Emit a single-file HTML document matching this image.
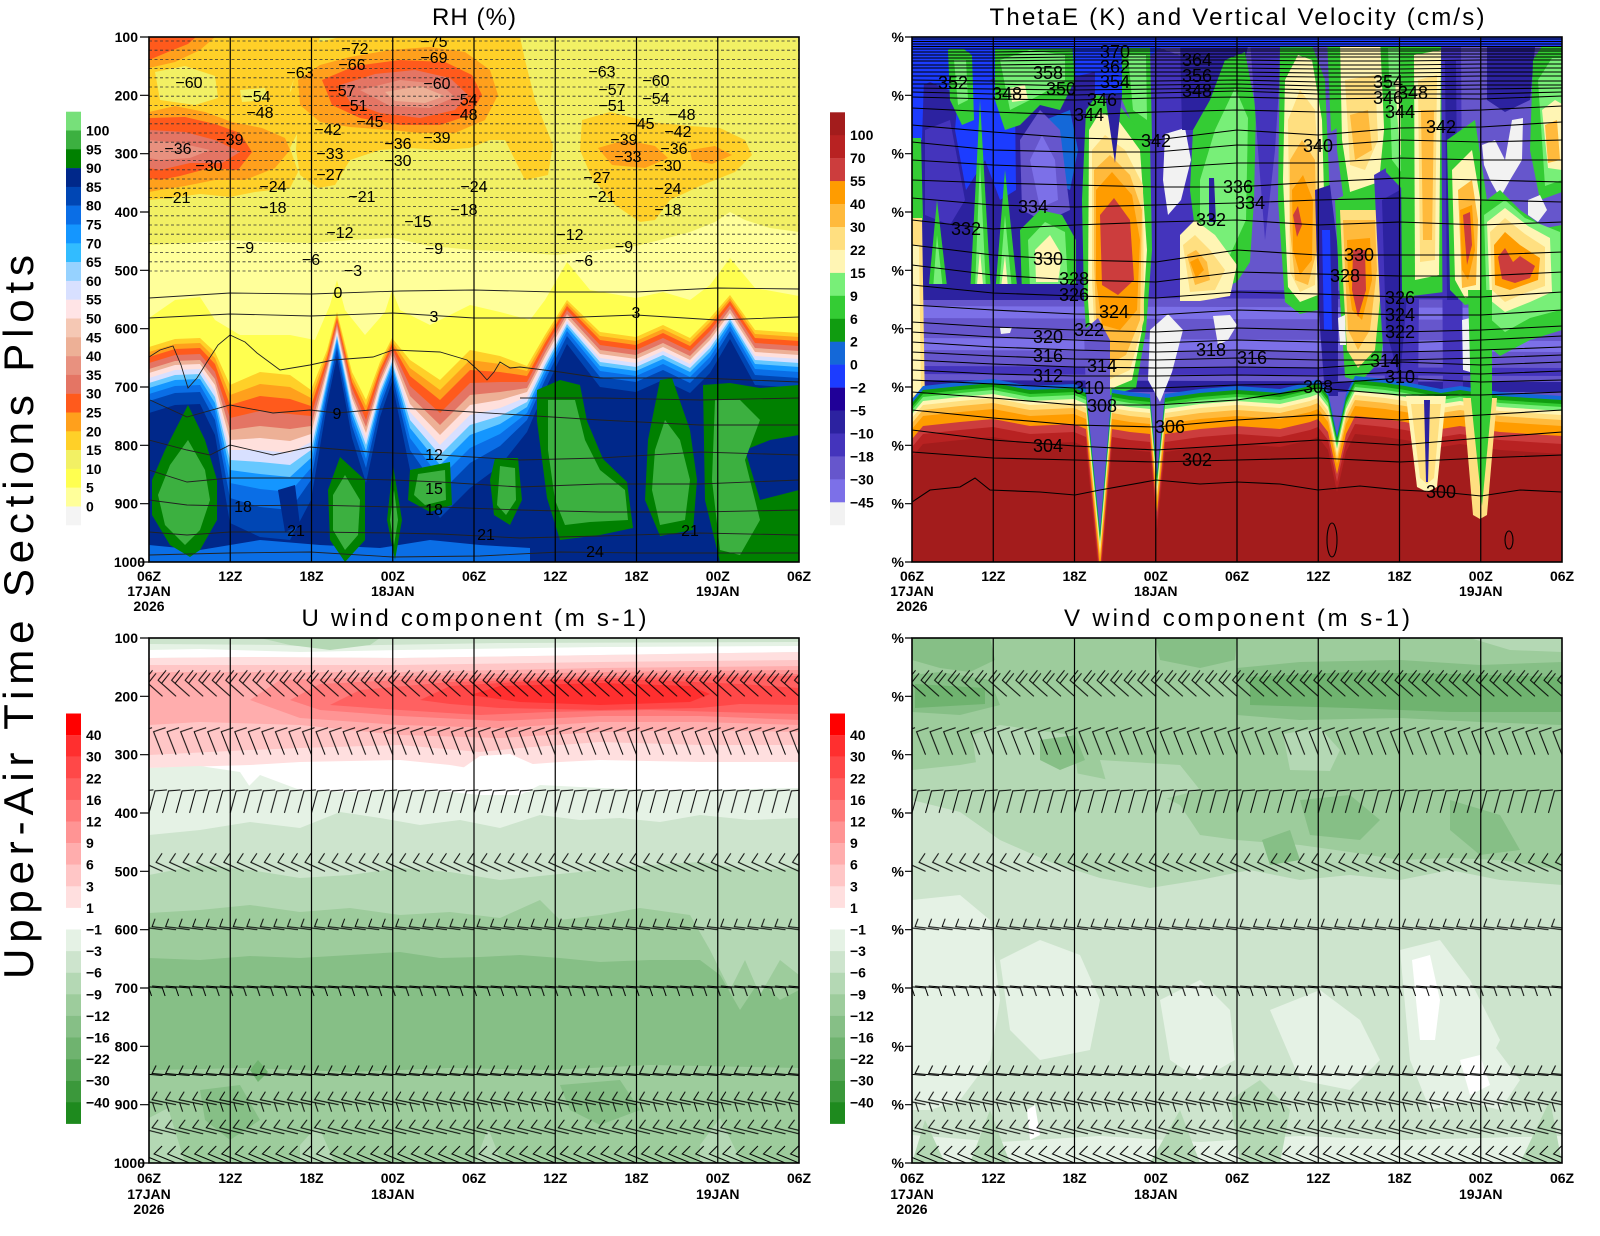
<!DOCTYPE html>
<html><head><meta charset="utf-8"><style>
html,body{margin:0;padding:0;background:#fff;}
svg{display:block}
text{font-family:"Liberation Sans",sans-serif;fill:#000}
.ax{font-weight:bold;font-size:14px}
.cl{font-size:16px}
.tl{font-size:18px}
.ti{font-size:24px}
</style></head><body>
<svg width="1600" height="1236" viewBox="0 0 1600 1236" xmlns="http://www.w3.org/2000/svg" xmlns:xlink="http://www.w3.org/1999/xlink">
<defs>
<clipPath id="c1"><rect x="149" y="37" width="650" height="525"/></clipPath>
<clipPath id="c2"><rect x="912" y="37" width="650" height="525"/></clipPath>
<clipPath id="c3"><rect x="149" y="638" width="650" height="525"/></clipPath>
<clipPath id="c4"><rect x="912" y="638" width="650" height="525"/></clipPath>
<path id="b0" d="M0 0L-18-16L-10-26M-14.5-13L-6.5-23"/>
<path id="b1" d="M0 0L-9-23L3-27"/>
<path id="b2" d="M0 0L6-22L18-23"/>
<path id="b3" d="M0 0L-20-9L-14-18"/>
<path id="b4" d="M0 0L-24-3L-21-11"/>
<path id="b5" d="M0 0L-24-2M-14-1L-11 8"/>
<path id="b6" d="M0 0L-24-2L-20-10"/>
<path id="b7" d="M0 0L-24-5L-19-13M-10-2L-7 7"/>
<path id="b8" d="M0 0L-24-6L-18-14"/>
<path id="b9" d="M0 0L-22-9L-14-17"/>
<pattern id="p0" patternUnits="userSpaceOnUse" x="149" y="664.3" width="13.5417" height="44"><g fill="none" stroke="#000" stroke-width="1"><use href="#b0" x="-27.083" y="32"/><use href="#b0" x="-13.542" y="32"/><use href="#b0" y="32"/><use href="#b0" x="13.542" y="32"/><use href="#b0" x="27.083" y="32"/></g></pattern>
<pattern id="p1" patternUnits="userSpaceOnUse" x="149" y="722.7" width="13.5417" height="44"><g fill="none" stroke="#000" stroke-width="1"><use href="#b1" x="-27.083" y="32"/><use href="#b1" x="-13.542" y="32"/><use href="#b1" y="32"/><use href="#b1" x="13.542" y="32"/><use href="#b1" x="27.083" y="32"/></g></pattern>
<pattern id="p2" patternUnits="userSpaceOnUse" x="149" y="780.9" width="13.5417" height="44"><g fill="none" stroke="#000" stroke-width="1"><use href="#b2" x="-27.083" y="32"/><use href="#b2" x="-13.542" y="32"/><use href="#b2" y="32"/><use href="#b2" x="13.542" y="32"/><use href="#b2" x="27.083" y="32"/></g></pattern>
<pattern id="p3" patternUnits="userSpaceOnUse" x="149" y="839.3" width="13.5417" height="44"><g fill="none" stroke="#000" stroke-width="1"><use href="#b3" x="-27.083" y="32"/><use href="#b3" x="-13.542" y="32"/><use href="#b3" y="32"/><use href="#b3" x="13.542" y="32"/><use href="#b3" x="27.083" y="32"/></g></pattern>
<pattern id="p4" patternUnits="userSpaceOnUse" x="149" y="897.7" width="13.5417" height="44"><g fill="none" stroke="#000" stroke-width="1"><use href="#b4" x="-27.083" y="32"/><use href="#b4" x="-13.542" y="32"/><use href="#b4" y="32"/><use href="#b4" x="13.542" y="32"/><use href="#b4" x="27.083" y="32"/></g></pattern>
<pattern id="p5" patternUnits="userSpaceOnUse" x="149" y="956" width="13.5417" height="44"><g fill="none" stroke="#000" stroke-width="1"><use href="#b5" x="-27.083" y="32"/><use href="#b5" x="-13.542" y="32"/><use href="#b5" y="32"/><use href="#b5" x="13.542" y="32"/><use href="#b5" x="27.083" y="32"/></g></pattern>
<pattern id="p6" patternUnits="userSpaceOnUse" x="149" y="1043.5" width="13.5417" height="44"><g fill="none" stroke="#000" stroke-width="1"><use href="#b6" x="-27.083" y="32"/><use href="#b6" x="-13.542" y="32"/><use href="#b6" y="32"/><use href="#b6" x="13.542" y="32"/><use href="#b6" x="27.083" y="32"/></g></pattern>
<pattern id="p7" patternUnits="userSpaceOnUse" x="149" y="1072.7" width="13.5417" height="44"><g fill="none" stroke="#000" stroke-width="1"><use href="#b7" x="-27.083" y="32"/><use href="#b7" x="-13.542" y="32"/><use href="#b7" y="32"/><use href="#b7" x="13.542" y="32"/><use href="#b7" x="27.083" y="32"/></g></pattern>
<pattern id="p8" patternUnits="userSpaceOnUse" x="149" y="1101.8" width="13.5417" height="44"><g fill="none" stroke="#000" stroke-width="1"><use href="#b8" x="-27.083" y="32"/><use href="#b8" x="-13.542" y="32"/><use href="#b8" y="32"/><use href="#b8" x="13.542" y="32"/><use href="#b8" x="27.083" y="32"/></g></pattern>
<pattern id="p9" patternUnits="userSpaceOnUse" x="149" y="1131" width="13.5417" height="44"><g fill="none" stroke="#000" stroke-width="1"><use href="#b9" x="-27.083" y="32"/><use href="#b9" x="-13.542" y="32"/><use href="#b9" y="32"/><use href="#b9" x="13.542" y="32"/><use href="#b9" x="27.083" y="32"/></g></pattern>
</defs>
<rect width="1600" height="1236" fill="#fff"/>

<!-- Sidebar -->
<text transform="translate(33,617) rotate(-90)" text-anchor="middle" font-size="42" fill="#555" textLength="724" lengthAdjust="spacing">Upper-Air Time Sections Plots</text>

<!-- Titles -->
<text class="ti" x="474" y="25" text-anchor="middle" textLength="84" lengthAdjust="spacing">RH (%)</text>
<text class="ti" x="1237" y="25" text-anchor="middle" textLength="495" lengthAdjust="spacing">ThetaE (K) and Vertical Velocity (cm/s)</text>
<text class="ti" x="474" y="626" text-anchor="middle" textLength="345" lengthAdjust="spacing">U wind component (m s-1)</text>
<text class="ti" x="1237" y="626" text-anchor="middle" textLength="346" lengthAdjust="spacing">V wind component (m s-1)</text>

<!-- ================= RH PANEL ================= -->
<g clip-path="url(#c1)">
<rect x="149" y="37" width="650" height="525" fill="#ffff9a"/>
<polygon fill="#f2f064" points="149,37 799,37 799,232 770,228 745,220 730,212 715,222 690,232 660,240 636,246 600,250 555,255 520,252 474,250 430,246 393,238 350,240 311,243 270,242 230,240 190,243 149,245"/>
<polygon fill="#ffff50" points="149,318 175,300 200,297 215,320 240,335 290,335 315,340 330,305 337,280 345,310 365,335 385,312 392,290 400,310 430,325 470,305 500,312 530,320 545,300 567,262 590,290 636,298 663,292 690,300 710,285 730,258 755,288 799,296 799,562 149,562"/>
<polygon fill="#ffd028" points="149,37 320,37 315,55 298,68 290,90 296,110 300,128 290,148 298,172 290,188 255,192 230,197 200,194 170,198 149,200"/>
<polygon fill="#ffa01c" points="149,37 215,37 200,50 175,62 149,68"/>
<polygon fill="#ff5a1c" points="149,37 196,37 188,44 168,52 149,60"/>
<polygon fill="#f2f064" points="155,72 185,66 215,76 218,98 195,105 160,100"/>
<polygon fill="#f2f064" points="240,90 265,88 268,100 242,102"/>
<polygon fill="#ffa01c" points="149,112 175,106 205,112 232,122 262,128 285,138 290,150 275,168 245,180 215,180 185,186 160,190 149,192"/>
<polygon fill="#ff5a1c" points="149,118 185,117 215,124 240,133 252,152 238,170 210,168 180,176 160,180 149,178"/>
<polygon fill="#e47564" points="149,130 185,132 215,140 240,152 222,163 190,163 160,170 149,168"/>
<polygon fill="#e8917f" points="149,140 180,143 210,150 190,158 160,160 149,158"/>
<polygon fill="#ffd028" points="300,55 320,42 340,37 520,37 525,60 535,100 553,145 548,175 525,180 505,140 490,140 470,148 440,150 410,148 380,150 350,160 335,185 318,188 300,175 296,150 298,120 290,95"/>
<polygon fill="#ffd028" points="473,37 505,37 518,62 532,100 553,148 545,172 527,176 512,150 492,112 476,80"/>
<polygon fill="#ffa01c" points="298,80 320,65 350,57 390,50 430,47 465,52 490,70 498,95 485,120 455,133 420,133 390,130 350,127 320,122 300,105"/>
<polygon fill="#ff5a1c" points="322,80 355,66 400,60 445,62 472,75 482,95 470,115 440,125 400,125 360,118 332,105"/>
<polygon fill="#e47564" points="340,85 375,74 415,70 450,78 468,95 455,110 420,118 380,113 350,102"/>
<polygon fill="#e8917f" points="360,90 400,80 440,84 455,97 430,108 390,106"/>
<polygon fill="#edb096" points="385,92 420,86 445,96 425,103 395,101"/>
<polygon fill="#ffd028" points="582,120 610,112 650,122 690,126 720,128 745,140 752,155 735,172 700,186 670,200 655,220 640,222 615,205 592,178 580,150"/>
<polygon fill="#ffa01c" points="598,148 625,140 655,146 668,158 645,168 612,165"/>
<polygon fill="#ffa01c" points="690,150 715,146 732,155 712,164 692,160"/>
<polygon fill="#ffd028" points="149,347 175,339 200,338 215,352 230,385 260,372 290,375 311,390 327,350 337,312 352,372 366,400 380,362 392,338 410,360 440,380 470,350 500,356 527,366 545,335 567,300 600,332 636,337 663,325 690,338 710,318 730,295 755,330 799,333 799,562 149,562"/>
<polygon fill="#ffa01c" points="149,352 175,344 200,343 215,358 230,395 260,384 290,387 311,398 327,354 337,315 352,377 366,406 380,366 392,341 410,368 440,390 470,360 500,364 527,371 545,339 567,303 600,336 636,341 663,329 690,342 710,322 730,298 755,334 799,337 799,562 149,562"/>
<polygon fill="#ff5a1c" points="149,357 175,349 200,348 215,364 230,405 260,396 290,399 311,406 327,358 337,318 352,382 366,412 380,370 392,344 410,376 440,400 470,370 500,372 527,376 545,343 567,306 600,340 636,345 663,333 690,346 710,326 730,301 755,338 799,341 799,562 149,562"/>
<polygon fill="#e47564" points="149,363 175,355 200,354 215,372 230,418 260,411 290,414 311,416 327,363 337,322 352,388 366,420 380,375 392,348 410,386 440,413 470,383 500,382 527,382 545,348 567,310 600,345 636,350 663,338 690,351 710,331 730,305 755,343 799,346 799,562 149,562"/>
<polygon fill="#edb096" points="149,369 175,361 200,360 215,379 230,430 260,426 290,429 311,426 327,368 337,326 352,394 366,427 380,380 392,352 410,396 440,425 470,395 500,392 527,388 545,353 567,314 600,350 636,355 663,343 690,356 710,336 730,309 755,348 799,351 799,562 149,562"/>
<polygon fill="#ffe0dc" points="149,373 175,365 200,364 215,385 230,440 260,438 290,441 311,434 327,372 337,330 352,398 366,433 380,384 392,356 410,404 440,435 470,405 500,400 527,392 545,357 567,318 600,354 636,359 663,347 690,360 710,340 730,313 755,352 799,355 799,562 149,562"/>
<polygon fill="#d8e0ff" points="149,378 175,370 200,369 215,391 230,450 260,450 290,453 311,442 327,376 337,333 352,403 366,439 380,388 392,359 410,412 440,445 470,415 500,408 527,397 545,361 567,321 600,358 636,363 663,351 690,364 710,344 730,316 755,356 799,359 799,562 149,562"/>
<polygon fill="#66c8ff" points="149,383 175,375 200,374 215,397 230,460 260,462 290,465 311,450 327,380 337,336 352,408 366,445 380,392 392,362 410,420 440,455 470,425 500,416 527,402 545,365 567,324 600,362 636,367 663,355 690,368 710,348 730,319 755,360 799,363 799,562 149,562"/>
<polygon fill="#1496ff" points="149,388 175,380 200,379 215,403 230,470 260,474 290,477 311,458 327,384 337,339 352,413 366,451 380,396 392,365 410,428 440,465 470,435 500,424 527,407 545,369 567,327 600,366 636,371 663,359 690,372 710,352 730,322 755,364 799,367 799,562 149,562"/>
<polygon fill="#0a6ee6" points="149,394 175,386 200,385 215,411 230,483 260,489 290,492 311,468 327,389 337,343 352,419 366,459 380,401 392,369 410,438 440,478 470,448 500,434 527,413 545,374 567,331 600,371 636,376 663,364 690,377 710,357 730,326 755,369 799,372 799,562 149,562"/>
<polygon fill="#0046b4" points="149,401 175,393 200,392 215,420 230,498 260,507 290,510 311,480 327,395 337,348 352,426 366,468 380,407 392,374 410,450 440,493 470,463 500,446 527,420 545,380 567,336 600,377 636,382 663,370 690,383 710,363 730,331 755,375 799,378 799,562 149,562"/>
<polygon fill="#00288a" points="149,413 175,405 200,404 215,435 230,523 260,537 290,540 311,500 327,405 337,356 352,438 366,483 380,417 392,382 410,470 440,518 470,488 500,466 527,432 545,390 567,344 600,387 636,392 663,380 690,393 710,373 730,339 755,385 799,388 799,562 149,562"/>
<polygon fill="#0a6ee6" points="149,545 200,550 260,540 320,545 380,548 430,540 480,545 530,548 530,562 149,562"/>
<polygon fill="#00288a" points="278,490 295,485 300,525 285,532"/>
<polygon fill="#008000" points="188,405 205,440 217,480 217,520 200,550 190,557 170,545 152,515 152,480 165,450"/>
<polygon fill="#3cb040" points="188,440 205,470 210,500 200,530 185,545 165,525 158,495 170,465"/>
<polygon fill="#008000" points="340,457 365,480 365,540 345,562 330,540 328,490"/>
<polygon fill="#3cb040" points="345,475 360,500 358,535 345,550 333,530 333,495"/>
<polygon fill="#008000" points="393,465 402,520 395,560 387,520"/>
<polygon fill="#3cb040" points="394,490 398,520 394,545 390,520"/>
<polygon fill="#008000" points="410,470 450,462 452,505 430,512 408,500"/>
<polygon fill="#3cb040" points="418,474 445,470 446,500 425,505 414,495"/>
<polygon fill="#008000" points="495,458 518,458 522,500 510,525 494,515 490,480"/>
<polygon fill="#3cb040" points="500,466 515,468 516,500 506,515 497,505"/>
<polygon fill="#008000" points="537,390 560,380 580,385 587,421 603,459 627,482 633,528 600,535 560,540 547,498 537,421"/>
<polygon fill="#3cb040" points="548,400 575,400 585,440 600,470 625,490 628,520 590,522 565,525 555,500 548,450"/>
<polygon fill="#008000" points="660,380 672,378 690,430 697,480 693,530 660,536 645,500 648,440"/>
<polygon fill="#3cb040" points="665,420 680,440 690,480 685,520 660,525 652,490 655,450"/>
<polygon fill="#008000" points="703,385 730,383 760,388 799,385 799,435 770,440 745,450 760,500 799,490 799,562 720,562 705,500"/>
<polygon fill="#3cb040" points="715,400 740,400 760,420 745,460 760,520 740,555 720,550 712,480"/>
<path fill="none" stroke="#333" stroke-width="0.8" stroke-dasharray="3 2.5" d="M149 41H799M149 50.2H799M149 59.4H799M149 68.6H799M149 77.8H799M149 87H799M149 96.2H799M149 105.4H799M149 114.6H799M149 123.8H799M149 133H799M149 142.2H799M149 151.4H799M149 160.6H799M149 169.8H799M149 179H799M149 188.2H799M149 197.4H799M149 206.6H799M149 215.8H799M149 225H799M149 234.2H799M149 243.4H799M149 252.6H799M149 261.8H799M149 271H799"/>
<path fill="none" stroke="#222" stroke-width="0.9" d="M149 298L230 293L311 294L400 291L474 290L555 292L636 292L717 288L799 289M149 318L230 314L311 316L393 313L474 318L555 318L636 315L717 320L799 317M149 357L160 350L173 346L181 365L188 388L197 378L207 362L218 345L230 335L245 342L257 353L280 370L310 365L333 360L373 357L393 350L440 352L467 360L480 372L487 380L494 372L500 362L510 368L520 367L560 372L600 378L700 378L799 382M150 400L187 417L230 405L273 413L310 410L337 413L393 408L440 410L520 415L600 420L700 425L799 425M520 398L600 398L700 400L799 398M149 440L187 450L210 455L230 445L273 455L310 447L370 452L440 455L520 460L600 458L700 452L799 455M149 470L187 482L230 478L310 478L393 480L440 482L520 487L600 484L700 484L799 480M149 500L187 505L230 506L310 505L393 507L440 507L520 510L600 512L700 512L799 510M149 532L187 535L230 532L310 532L393 533L440 534L520 538L600 536L700 533L799 535M149 555L230 553L310 552L393 557L480 556L560 552L640 553L799 553"/>
<path stroke="#000" stroke-width="1.2" d="M230.25 37V562M311.5 37V562M392.75 37V562M474 37V562M555.25 37V562M636.5 37V562M717.75 37V562"/>
<g class="cl" text-anchor="middle">
<text x="355" y="54">−72</text><text x="434" y="47">−75</text><text x="352" y="70">−66</text><text x="434" y="63">−69</text>
<text x="300" y="78">−63</text><text x="189" y="88">−60</text><text x="437" y="89">−60</text><text x="342" y="96">−57</text>
<text x="257" y="102">−54</text><text x="464" y="105">−54</text><text x="354" y="111">−51</text><text x="260" y="118">−48</text>
<text x="464" y="120">−48</text><text x="370" y="127">−45</text><text x="328" y="135">−42</text><text x="230" y="145">−39</text>
<text x="437" y="143">−39</text><text x="178" y="154">−36</text><text x="398" y="149">−36</text><text x="330" y="159">−33</text>
<text x="209" y="171">−30</text><text x="398" y="166">−30</text><text x="330" y="180">−27</text><text x="273" y="192">−24</text>
<text x="474" y="192">−24</text><text x="177" y="203">−21</text><text x="362" y="202">−21</text><text x="273" y="213">−18</text>
<text x="464" y="215">−18</text><text x="418" y="227">−15</text><text x="340" y="238">−12</text><text x="245" y="253">−9</text>
<text x="434" y="254">−9</text><text x="311" y="265">−6</text><text x="353" y="276">−3</text><text x="338" y="298">0</text>
<text x="434" y="322">3</text><text x="636" y="318">3</text><text x="337" y="419">9</text><text x="434" y="460">12</text>
<text x="434" y="494">15</text><text x="434" y="515">18</text><text x="243" y="512">18</text><text x="296" y="536">21</text>
<text x="486" y="540">21</text><text x="595" y="557">24</text><text x="690" y="536">21</text>
<text x="602" y="77">−63</text><text x="656" y="86">−60</text><text x="612" y="95">−57</text><text x="656" y="104">−54</text>
<text x="612" y="111">−51</text><text x="682" y="120">−48</text><text x="641" y="129">−45</text><text x="678" y="137">−42</text>
<text x="624" y="145">−39</text><text x="674" y="154">−36</text><text x="628" y="162">−33</text><text x="668" y="171">−30</text>
<text x="597" y="183">−27</text><text x="668" y="194">−24</text><text x="602" y="202">−21</text><text x="668" y="215">−18</text>
<text x="570" y="240">−12</text><text x="624" y="252">−9</text><text x="584" y="266">−6</text>
</g>
</g>
<rect x="149" y="37" width="650" height="525" fill="none" stroke="#000" stroke-width="1.6"/>

<!-- ================= THETAE PANEL ================= -->
<g clip-path="url(#c2)">
<rect x="912" y="37" width="650" height="525" fill="#6656cc"/>
<polygon fill="#4434bc" points="912,288 1562,292 1562,300 912,297"/>
<polygon fill="#7c70e8" points="912,306 1562,308 1562,320 912,318"/>
<polygon fill="#7c70e8" points="912,338 1562,341 1562,352 912,350"/>
<polygon fill="#4434bc" points="912,366 1562,368 1562,376 912,374"/>
<polygon fill="#2c22a0" points="912,380 1562,382 1562,392 912,392"/>
<!-- UL: navy base -->
<polygon fill="#2c22a0" points="912,37 1095,37 1095,300 912,300"/>
<polygon fill="#1c3cff" points="912,37 1095,37 1095,72 1060,80 1000,75 960,95 930,82 912,90"/>
<polygon fill="#1c3cff" points="912,47 925,47 922,140 912,140"/>
<polygon fill="#1c3cff" points="958,95 990,80 1015,100 1016,190 1000,200 985,160 966,190 955,130"/>
<polygon fill="#1468d8" points="1045,120 1070,110 1078,150 1070,190 1050,180"/>
<polygon fill="#4434bc" points="925,130 950,120 965,200 950,225 925,215"/>
<polygon fill="#6656cc" points="1020,140 1040,110 1060,130 1070,210 1045,222 1022,210"/>
<polygon fill="#7c70e8" points="1030,160 1042,135 1055,160 1058,200 1040,208"/>
<polygon fill="#34cc34" points="948,50 958,45 972,55 974,120 962,125 950,100"/>
<polygon fill="#78ef78" points="954,60 966,60 968,100 958,105"/>
<polygon fill="#34cc34" points="995,43 1072,43 1075,80 1060,110 1040,105 1020,125 1005,130 995,100"/>
<polygon fill="#78ef78" points="1000,60 1030,50 1065,55 1065,80 1040,95 1010,110"/>
<polygon fill="#fff5b4" points="1010,88 1025,85 1028,100 1012,102"/>
<polygon fill="#34cc34" points="928,295 937,200 948,295"/>
<polygon fill="#78ef78" points="933,290 937,235 943,290"/>
<polygon fill="#34cc34" points="970,295 980,100 991,295"/>
<polygon fill="#78ef78" points="975,290 980,160 986,290"/>
<polygon fill="#fff5b4" points="977,285 983,285 980,250"/>
<polygon fill="#34cc34" points="995,295 1005,170 1018,295"/>
<polygon fill="#78ef78" points="999,290 1005,215 1012,290"/>
<polygon fill="#fff5b4" points="1001,288 1008,288 1005,255"/>
<polygon fill="#34cc34" points="1020,230 1040,210 1062,215 1076,240 1076,295 1022,295"/>
<polygon fill="#78ef78" points="1028,240 1045,222 1065,232 1068,285 1030,288"/>
<polygon fill="#fff5b4" points="1035,250 1050,235 1062,255 1058,282 1036,282"/>
<polygon fill="#2c22a0" points="912,284 1095,284 1095,300 912,300"/>
<polygon fill="#34cc34" points="912,138 921,138 923,220 912,220"/>
<polygon fill="#ffdf80" points="912,218 922,218 925,408 912,408"/>
<polygon fill="#fff5b4" points="913,245 919,245 921,395 913,395"/>
<!-- 18Z-00Z -->
<polygon fill="#1c3cff" points="1095,37 1160,37 1160,95 1095,95"/>
<polygon fill="#4434bc" points="1145,60 1160,48 1192,60 1196,292 1145,292"/>
<polygon fill="#34cc34" points="1122,43 1150,43 1152,140 1135,130 1122,100"/>
<polygon fill="#78ef78" points="1128,55 1146,55 1147,120 1133,110"/>
<polygon fill="#34cc34" points="1086,110 1097,95 1115,100 1135,125 1150,140 1152,250 1146,330 1136,388 1108,396 1090,385 1084,300 1082,200"/>
<polygon fill="#fff5b4" points="1089,130 1100,112 1118,120 1140,150 1147,250 1142,330 1132,380 1108,390 1093,378 1088,300"/>
<polygon fill="#ffdf80" points="1092,150 1105,135 1125,150 1143,185 1144,320 1130,370 1108,380 1096,365 1092,280"/>
<polygon fill="#ffba3c" points="1094,170 1110,155 1130,175 1142,210 1140,320 1126,355 1108,365 1097,345 1094,260"/>
<polygon fill="#ff9c00" points="1096,190 1112,172 1132,195 1140,240 1137,310 1120,330 1102,325 1096,280"/>
<polygon fill="#cc3d3d" points="1100,215 1114,198 1130,220 1134,280 1118,295 1102,285"/>
<polygon fill="#6656cc" points="1084,330 1098,318 1110,340 1110,397 1086,397"/>
<polygon fill="#2c22a0" points="1105,95 1122,95 1115,163"/>
<polygon fill="#f2f2f2" points="1165,134 1185,128 1191,160 1181,200 1168,215 1163,180"/>
<polygon fill="#f2f2f2" points="1150,330 1168,314 1183,330 1172,372 1160,402 1148,380"/>
<!-- 00Z-06Z -->
<polygon fill="#2c22a0" points="1180,37 1250,37 1245,60 1215,95 1195,130 1182,130"/>
<polygon fill="#34cc34" points="1193,130 1210,100 1225,60 1245,52 1256,110 1254,200 1250,262 1237,282 1225,287 1210,272 1195,230 1190,190"/>
<polygon fill="#78ef78" points="1200,180 1215,130 1235,88 1248,118 1246,220 1230,255 1210,250 1200,220"/>
<polygon fill="#2c22a0" points="1209,178 1214,178 1216,222 1209,222"/>
<polygon fill="#fff5b4" points="1180,235 1195,220 1215,235 1237,265 1230,296 1200,301 1180,301"/>
<polygon fill="#ffdf80" points="1183,245 1195,235 1210,250 1225,270 1215,290 1190,292"/>
<polygon fill="#ffba3c" points="1187,255 1196,250 1207,262 1210,280 1195,285"/>
<polygon fill="#ff9c00" points="1190,262 1198,258 1204,270 1196,278"/>
<polygon fill="#f2f2f2" points="1213,316 1230,315 1237,325 1228,340 1218,345"/>
<!-- 06Z-12Z -->
<polygon fill="#4434bc" points="1250,40 1282,40 1275,150 1265,240 1258,150"/>
<polygon fill="#34cc34" points="1280,45 1295,38 1310,40 1325,80 1330,200 1328,290 1318,310 1300,314 1285,302 1278,200"/>
<polygon fill="#fff5b4" points="1285,80 1298,55 1312,60 1322,120 1325,230 1318,295 1300,302 1288,287 1283,180"/>
<polygon fill="#ffdf80" points="1288,120 1300,90 1315,110 1320,200 1315,285 1300,292 1290,272"/>
<polygon fill="#ffba3c" points="1290,160 1302,140 1315,160 1317,250 1308,285 1295,280 1290,230"/>
<polygon fill="#ff9c00" points="1292,190 1303,175 1313,200 1312,260 1300,275 1293,250"/>
<polygon fill="#cc3d3d" points="1293,215 1298,206 1302,225 1297,237"/>
<polygon fill="#2c22a0" points="1315,190 1330,185 1338,250 1338,396 1325,396 1318,300"/>
<polygon fill="#1c3cff" points="1322,230 1330,230 1332,330 1324,330"/>
<!-- 12Z-18Z -->
<polygon fill="#34cc34" points="1327,37 1347,37 1346,122 1331,132"/>
<polygon fill="#34cc34" points="1335,37 1392,37 1394,100 1387,192 1376,202 1344,202 1337,150"/>
<polygon fill="#fff5b4" points="1340,42 1386,42 1386,110 1379,182 1350,192 1342,140"/>
<polygon fill="#ffdf80" points="1345,80 1375,75 1378,140 1365,170 1350,165"/>
<polygon fill="#ffba3c" points="1350,115 1368,110 1372,150 1355,160"/>
<polygon fill="#34cc34" points="1335,200 1345,195 1386,200 1391,270 1381,360 1360,382 1345,377 1340,300"/>
<polygon fill="#ffdf80" points="1340,210 1380,210 1383,270 1375,350 1358,368 1347,350 1343,280"/>
<polygon fill="#ffba3c" points="1343,220 1375,220 1377,270 1370,330 1358,350 1348,330 1345,270"/>
<polygon fill="#ff9c00" points="1347,240 1370,238 1372,280 1362,320 1352,310 1348,280"/>
<polygon fill="#cc3d3d" points="1353,250 1365,250 1366,290 1358,317 1352,290"/>
<polygon fill="#4434bc" points="1374,175 1400,160 1420,200 1418,396 1386,396 1380,300"/>
<polygon fill="#2c22a0" points="1382,200 1400,190 1410,260 1400,380 1386,330"/>
<polygon fill="#34cc34" points="1380,37 1434,37 1434,180 1405,192 1386,172"/>
<polygon fill="#78ef78" points="1388,48 1429,48 1429,165 1405,177 1392,160"/>
<polygon fill="#fff5b4" points="1395,80 1420,80 1422,150 1400,155"/>
<!-- 18Z-00Z 19 -->
<polygon fill="#34cc34" points="1400,37 1413,37 1414,298 1402,298"/>
<polygon fill="#34cc34" points="1410,45 1446,40 1444,292 1412,296"/>
<polygon fill="#fff5b4" points="1414,55 1441,50 1439,275 1415,280"/>
<polygon fill="#ffdf80" points="1418,80 1437,75 1435,260 1420,262"/>
<polygon fill="#ffba3c" points="1421,110 1434,110 1432,240 1423,240"/>
<polygon fill="#4434bc" points="1441,37 1461,37 1463,396 1443,396"/>
<polygon fill="#2c22a0" points="1445,60 1456,60 1458,300 1447,300"/>
<polygon fill="#34cc34" points="1447,140 1475,120 1487,200 1485,300 1465,305 1450,290"/>
<polygon fill="#fff5b4" points="1452,170 1472,150 1482,210 1480,295 1465,298 1455,280"/>
<polygon fill="#ffba3c" points="1458,190 1472,180 1478,220 1476,285 1462,288"/>
<polygon fill="#ff9c00" points="1460,210 1472,205 1475,250 1468,280 1462,270"/>
<polygon fill="#cc3d3d" points="1463,215 1470,212 1472,245 1467,265"/>
<!-- 00Z-06Z 19 -->
<polygon fill="#2c22a0" points="1487,37 1536,37 1530,100 1505,112 1487,100"/>
<polygon fill="#34cc34" points="1533,60 1548,37 1562,37 1562,192 1540,200 1530,150"/>
<polygon fill="#78ef78" points="1538,80 1552,58 1562,58 1562,180 1545,186"/>
<polygon fill="#fff5b4" points="1542,110 1555,100 1562,104 1562,170 1548,168"/>
<polygon fill="#ffba3c" points="1545,125 1557,120 1560,160 1548,163"/>
<polygon fill="#f2f2f2" points="1482,145 1495,140 1505,160 1512,120 1523,118 1522,160 1510,180 1500,198 1490,180 1484,165"/>
<polygon fill="#34cc34" points="1480,205 1500,190 1520,210 1545,228 1562,225 1562,330 1530,340 1500,356 1482,340"/>
<polygon fill="#78ef78" points="1484,215 1505,200 1525,218 1560,232 1560,310 1530,318 1505,332 1487,316"/>
<polygon fill="#fff5b4" points="1487,222 1505,208 1528,226 1550,238 1552,292 1530,302 1505,312 1490,300"/>
<polygon fill="#ffdf80" points="1490,232 1505,218 1525,234 1545,247 1545,286 1525,293 1505,302 1492,290"/>
<polygon fill="#ff9c00" points="1494,245 1505,232 1520,245 1540,258 1538,280 1510,290 1495,285"/>
<polygon fill="#cc3d3d" points="1498,257 1505,248 1513,262 1520,256 1535,266 1530,278 1515,283 1502,279"/>
<polygon fill="#f2f2f2" points="1528,200 1540,195 1547,210 1538,222 1528,215"/>
<polygon fill="#f2f2f2" points="1338,318 1345,315 1346,345 1340,345"/>
<polygon fill="#f2f2f2" points="1462,320 1470,318 1470,372 1463,370"/>
<polygon fill="#f2f2f2" points="1000,328 1012,327 1010,333 1001,334"/>
<polygon fill="#1c3cff" points="912,37 1562,37 1562,46 912,49"/>
<!-- lower transition layers -->
<polygon fill="#1468d8" points="912,399 923,386 960,382 993,379 1030,386 1074,384 1086,389 1100,530 1112,389 1130,392 1150,394 1157,472 1165,394 1200,389 1237,386 1280,389 1310,382 1318,379 1328,392 1337,434 1346,394 1355,376 1385,379 1405,382 1441,389 1460,386 1500,392 1530,394 1562,396 1562,562 912,562"/>
<polygon fill="#109c10" points="912,403 923,390 960,386 993,383 1030,390 1074,388 1086,393 1100,534 1112,393 1130,396 1150,398 1157,476 1165,398 1200,393 1237,390 1280,393 1310,386 1318,383 1328,396 1337,438 1346,398 1355,380 1385,383 1405,386 1441,393 1460,390 1500,396 1530,398 1562,400 1562,562 912,562"/>
<polygon fill="#34cc34" points="912,407 923,394 960,390 993,387 1030,394 1074,392 1086,397 1100,538 1112,397 1130,400 1150,402 1157,480 1165,402 1200,397 1237,394 1280,397 1310,390 1318,387 1328,400 1337,442 1346,402 1355,384 1385,387 1405,390 1441,397 1460,394 1500,400 1530,402 1562,404 1562,562 912,562"/>
<polygon fill="#78ef78" points="912,410 923,397 960,393 993,390 1030,397 1074,395 1086,400 1100,541 1112,400 1130,403 1150,405 1157,483 1165,405 1200,400 1237,397 1280,400 1310,393 1318,390 1328,403 1337,445 1346,405 1355,387 1385,390 1405,393 1441,400 1460,397 1500,403 1530,405 1562,407 1562,562 912,562"/>
<polygon fill="#fff5b4" points="912,414 923,401 960,397 993,394 1030,401 1074,399 1086,404 1100,545 1112,404 1130,407 1150,409 1157,487 1165,409 1200,404 1237,401 1280,404 1310,397 1318,394 1328,407 1337,449 1346,409 1355,391 1385,394 1405,397 1441,404 1460,401 1500,407 1530,409 1562,411 1562,562 912,562"/>
<polygon fill="#ffdf80" points="912,418 923,405 960,401 993,398 1030,405 1074,403 1086,408 1100,549 1112,408 1130,411 1150,413 1157,491 1165,413 1200,408 1237,405 1280,408 1310,401 1318,398 1328,411 1337,453 1346,413 1355,395 1385,398 1405,401 1441,408 1460,405 1500,411 1530,413 1562,415 1562,562 912,562"/>
<polygon fill="#ffba3c" points="912,423 923,410 960,406 993,403 1030,410 1074,408 1086,413 1100,554 1112,413 1130,416 1150,418 1157,496 1165,418 1200,413 1237,410 1280,413 1310,406 1318,403 1328,416 1337,458 1346,418 1355,400 1385,403 1405,406 1441,413 1460,410 1500,416 1530,418 1562,420 1562,562 912,562"/>
<polygon fill="#ff9c00" points="912,429 923,416 960,412 993,409 1030,416 1074,414 1086,419 1100,560 1112,419 1130,422 1150,424 1157,502 1165,424 1200,419 1237,416 1280,419 1310,412 1318,409 1328,422 1337,464 1346,424 1355,406 1385,409 1405,412 1441,419 1460,416 1500,422 1530,424 1562,426 1562,562 912,562"/>
<polygon fill="#cc3d3d" points="912,439 923,426 960,422 993,419 1030,426 1074,424 1086,429 1100,570 1112,429 1130,432 1150,434 1157,512 1165,434 1200,429 1237,426 1280,429 1310,422 1318,419 1328,432 1337,474 1346,434 1355,416 1385,419 1405,422 1441,429 1460,426 1500,432 1530,434 1562,436 1562,562 912,562"/>
<polygon fill="#b82222" points="912,447 923,434 960,430 993,427 1030,434 1074,432 1086,437 1100,578 1112,437 1130,440 1150,442 1157,520 1165,442 1200,437 1237,434 1280,437 1310,430 1318,427 1328,440 1337,482 1346,442 1355,424 1385,427 1405,430 1441,437 1460,434 1500,440 1530,442 1562,444 1562,562 912,562"/>
<polygon fill="#a31c1c" points="912,457 923,444 960,440 993,437 1030,444 1074,442 1086,447 1100,588 1112,447 1130,450 1150,452 1157,530 1165,452 1200,447 1237,444 1280,447 1310,440 1318,437 1328,450 1337,492 1346,452 1355,434 1385,437 1405,440 1441,447 1460,444 1500,450 1530,452 1562,454 1562,562 912,562"/>
<polygon fill="#fff5b4" points="1406,396 1446,396 1437,487 1427,492 1417,487"/>
<polygon fill="#ffdf80" points="1411,404 1441,404 1434,478 1427,484 1420,478"/>
<polygon fill="#2c22a0" points="1424,400 1430,400 1428,482 1426,482"/>
<polygon fill="#ffdf80" points="1463,398 1497,398 1487,515 1480,519 1473,515"/>
<polygon fill="#34cc34" points="1468,290 1492,290 1492,400 1482,506 1471,400"/>
<path fill="none" stroke="#000" stroke-width="1.1" d="M912 39H1562M912 41.5H1562M912 44H1562M912 46.5H1562M912 49H1562
M912 52L993 52L1075 51L1156 51L1237 51L1318 51L1400 51L1481 51L1562 51
M912 55L993 55L1075 54L1156 54L1237 54L1318 54L1400 54L1481 54L1562 54
M912 58L993 58L1075 57L1156 57L1237 57L1318 57L1400 57L1481 57L1562 57
M912 61L993 61L1075 60L1156 60L1237 60L1318 61L1400 61L1481 60L1562 60
M912 65L993 65L1075 64L1156 64L1237 64L1318 65L1400 65L1481 64L1562 64
M912 68L993 68L1075 68L1156 68L1237 68L1318 69L1400 69L1481 68L1562 68
M912 72L993 72L1075 72L1156 72L1237 72L1318 73L1400 73L1481 72L1562 72
M912 76L993 76L1075 76L1156 76L1237 76L1318 77L1400 77L1481 76L1562 76
M912 80L993 81L1075 81L1156 81L1237 80L1318 82L1400 82L1481 81L1562 81
M912 84L993 84L1075 86L1156 85L1237 84L1318 86L1400 86L1481 85L1562 85
M912 88L993 89L1075 90L1156 89L1237 88L1318 90L1400 90L1481 89L1562 88
M912 92L993 94L1075 95L1156 93L1237 91L1318 94L1400 94L1481 94L1562 92
M912 97L993 99L1075 100L1156 98L1237 97L1318 99L1400 98L1481 99L1562 96
M912 108L993 112L1075 115L1156 112L1237 110L1318 112L1400 112L1481 110L1562 106
M912 125L993 132L1075 138L1156 140L1237 130L1318 135L1400 128L1481 127L1562 122
M912 142L993 150L1075 152L1156 152L1237 145L1318 146L1400 140L1481 142L1562 140
M912 160L993 165L1075 168L1156 168L1237 163L1318 163L1400 158L1481 160L1562 160
M912 180L993 183L1075 185L1156 187L1237 187L1318 182L1400 178L1481 180L1562 182
M912 198L993 205L1075 207L1156 205L1237 203L1318 200L1400 198L1481 200L1562 202
M912 220L993 229L1075 225L1156 222L1237 220L1318 225L1400 222L1481 225L1562 222
M912 245L993 255L1075 260L1156 262L1237 250L1318 255L1400 255L1481 255L1562 252
M912 265L993 275L1075 280L1156 282L1237 272L1318 274L1400 276L1481 276L1562 272
M912 285L993 293L1075 296L1156 298L1237 292L1318 294L1400 297L1481 297L1562 292
M912 305L993 310L1075 314L1156 315L1237 310L1318 312L1400 315L1481 315L1562 310
M912 322L993 327L1075 330L1156 332L1237 328L1318 330L1400 332L1481 330L1562 326
M912 332L993 337L1075 340L1156 343L1237 340L1318 342L1400 343L1481 340L1562 336
M912 342L993 347L1075 350L1156 352L1237 350L1318 352L1400 352L1481 350L1562 347
M912 352L993 356L1075 359L1156 360L1237 358L1318 360L1400 360L1481 358L1562 355
M912 360L993 364L1075 367L1156 368L1237 367L1318 368L1400 362L1481 365L1562 362
M912 370L993 374L1075 376L1156 376L1237 375L1318 376L1400 372L1481 374L1562 371
M912 380L993 384L1075 388L1156 388L1237 385L1318 384L1400 378L1481 382L1562 380
M912 392L993 398L1075 405L1156 405L1237 400L1318 388L1400 395L1481 395L1562 392
M912 410L993 418L1075 425L1156 427L1237 420L1318 415L1400 420L1481 415L1562 410
M912 430L993 440L1075 446L1156 450L1237 445L1318 440L1400 445L1481 438L1562 432
M912 452L993 458L1075 460L1156 462L1237 460L1318 458L1400 462L1481 458L1562 455
M912 502L930 490L960 487L975 478L990 490L1040 492L1075 495L1100 490L1156 480L1200 484L1237 482L1280 484L1318 490L1360 486L1400 490L1441 492L1481 496L1520 490L1562 492"/>
<ellipse cx="1332" cy="540" rx="5" ry="17" fill="none" stroke="#000" stroke-width="1.1"/>
<ellipse cx="1509" cy="540" rx="4" ry="9" fill="none" stroke="#000" stroke-width="1.1"/>
<path stroke="#000" stroke-width="1.2" d="M993.25 37V562M1074.5 37V562M1155.75 37V562M1237 37V562M1318.25 37V562M1399.5 37V562M1480.75 37V562"/>
<g class="tl" text-anchor="middle">
<text x="1115" y="58">370</text><text x="1115" y="73">362</text><text x="1115" y="88">354</text>
<text x="1197" y="66">364</text><text x="1197" y="82">356</text><text x="1197" y="97">348</text>
<text x="1048" y="79">358</text><text x="1061" y="95">350</text><text x="953" y="89">352</text>
<text x="1007" y="100">348</text><text x="1102" y="106">346</text><text x="1089" y="121">344</text>
<text x="1156" y="147">342</text><text x="1318" y="152">340</text><text x="1388" y="88">354</text>
<text x="1388" y="104">346</text><text x="1413" y="99">348</text><text x="1400" y="118">344</text>
<text x="1441" y="133">342</text><text x="1238" y="193">336</text><text x="1033" y="213">334</text>
<text x="1250" y="209">334</text><text x="966" y="235">332</text><text x="1211" y="226">332</text>
<text x="1048" y="265">330</text><text x="1359" y="261">330</text><text x="1074" y="285">328</text>
<text x="1345" y="282">328</text><text x="1074" y="301">326</text><text x="1400" y="304">326</text>
<text x="1114" y="318">324</text><text x="1400" y="321">324</text><text x="1089" y="336">322</text>
<text x="1400" y="338">322</text><text x="1048" y="343">320</text><text x="1211" y="356">318</text>
<text x="1048" y="362">316</text><text x="1252" y="364">316</text><text x="1102" y="372">314</text>
<text x="1385" y="367">314</text><text x="1048" y="382">312</text><text x="1089" y="394">310</text>
<text x="1400" y="383">310</text><text x="1102" y="412">308</text><text x="1318" y="393">308</text>
<text x="1170" y="433">306</text><text x="1048" y="452">304</text><text x="1197" y="466">302</text>
<text x="1441" y="498">300</text>
</g>
</g>
<rect x="912" y="37" width="650" height="525" fill="none" stroke="#000" stroke-width="1.6"/>

<!-- ================= U PANEL ================= -->
<g clip-path="url(#c3)">
<rect x="149" y="638" width="650" height="525" fill="#86bf86"/>
<polygon fill="#9dcc9c" points="149,1070 250,1068 350,1072 450,1068 550,1070 650,1065 799,1068 799,1163 149,1163"/>
<polygon fill="#86bf86" points="200,1090 240,1085 260,1120 230,1140 205,1120"/>
<polygon fill="#86bf86" points="560,1085 620,1080 640,1110 600,1125 570,1110"/>
<polygon fill="#b4d8b4" points="149,1118 168,1108 185,1163 149,1163"/>
<polygon fill="#b4d8b4" points="300,1145 318,1125 335,1163 300,1163"/>
<polygon fill="#b4d8b4" points="475,1163 488,1128 502,1163"/>
<polygon fill="#b4d8b4" points="700,1145 720,1118 742,1163 700,1163"/>
<polygon fill="#9dcc9c" points="149,638 799,638 799,990 780,1000 760,980 740,1010 720,975 700,960 650,960 600,962 560,958 520,955 480,957 440,958 400,952 350,955 300,958 250,956 200,960 149,958"/>
<polygon fill="#b4d8b4" points="149,638 799,638 799,975 780,960 760,995 745,960 730,990 710,950 690,915 640,908 600,915 560,920 540,900 500,918 450,912 400,915 350,908 300,912 250,905 200,910 149,913"/>
<polygon fill="#cde4cd" points="149,638 799,638 799,868 750,870 700,862 650,865 600,870 550,875 500,880 450,872 400,868 350,875 300,878 250,870 200,865 149,875"/>
<polygon fill="#e5f2e5" points="149,638 799,638 799,818 750,820 700,815 660,822 620,818 580,820 540,815 500,828 460,820 420,825 380,818 340,812 300,828 250,822 200,830 149,835"/>
<polygon fill="#ffffff" points="149,740 799,740 799,788 700,790 650,790 600,788 540,785 520,795 480,795 450,792 400,790 350,792 300,790 260,775 240,795 200,790 149,780"/>
<polygon fill="#ffffff" points="149,638 799,638 799,652 600,655 400,658 250,657 149,658"/>
<polygon fill="#ffdfdf" points="149,658 250,657 400,658 600,655 799,652 799,762 760,762 700,762 600,760 560,762 520,765 480,770 450,765 400,760 300,762 250,765 149,768"/>
<polygon fill="#ffc6c6" points="149,665 400,665 600,662 799,660 799,745 700,745 600,742 520,748 480,752 400,745 300,748 250,750 149,755"/>
<polygon fill="#ffadad" points="149,672 400,672 600,668 799,666 799,732 700,730 600,732 500,738 400,735 300,725 200,722 149,725"/>
<polygon fill="#ff9494" points="250,700 280,680 400,676 600,672 799,670 799,725 700,722 600,722 500,728 400,725 300,718"/>
<polygon fill="#ff7a7a" points="290,700 320,684 400,680 600,676 799,674 799,720 700,716 600,716 500,721 400,716 320,710"/>
<polygon fill="#ff6161" points="330,705 360,690 450,682 600,678 799,676 799,714 720,712 650,710 550,712 480,715 400,710"/>
<polygon fill="#ff4848" points="420,700 450,686 550,680 650,680 740,684 799,688 799,705 740,704 700,708 600,710 500,708 450,704"/>
<polygon fill="#ff2f2f" points="470,695 500,686 600,683 690,686 710,694 690,702 600,705 520,702"/>
<polygon fill="#e5f2e5" points="149,638 799,638 799,646 600,647 400,650 300,652 200,649 149,650"/>
<polygon fill="#cde4cd" points="149,638 799,638 799,642 500,643 380,645 320,647 280,645 149,644"/>
<polygon fill="#b4d8b4" points="260,638 380,638 370,645 330,650 290,645"/>
<polygon fill="#ffffff" points="460,770 480,756 510,754 535,765 530,792 460,792"/>
<polygon fill="#e5f2e5" points="149,768 200,766 240,772 252,790 240,812 149,812"/>
<polygon fill="#6fb36f" points="250,1070 258,1060 268,1072 258,1082"/>
<g id="barbs">
<rect x="149" y="664.3" width="651" height="44" fill="url(#p0)"/>
<rect x="149" y="722.7" width="651" height="44" fill="url(#p1)"/>
<rect x="149" y="780.9" width="651" height="44" fill="url(#p2)"/>
<rect x="149" y="839.3" width="651" height="44" fill="url(#p3)"/>
<rect x="149" y="897.7" width="651" height="44" fill="url(#p4)"/>
<rect x="149" y="956" width="651" height="44" fill="url(#p5)"/>
<rect x="149" y="1043.5" width="651" height="44" fill="url(#p6)"/>
<rect x="149" y="1072.7" width="651" height="44" fill="url(#p7)"/>
<rect x="149" y="1101.8" width="651" height="44" fill="url(#p8)"/>
<rect x="149" y="1131" width="651" height="44" fill="url(#p9)"/>
</g>
<path stroke="#000" stroke-width="1.2" d="M230.25 638V1163M311.5 638V1163M392.75 638V1163M474 638V1163M555.25 638V1163M636.5 638V1163M717.75 638V1163"/>
</g>
<rect x="149" y="638" width="650" height="525" fill="none" stroke="#000" stroke-width="1.6"/>

<!-- ================= V PANEL ================= -->
<g clip-path="url(#c4)">
<rect x="912" y="638" width="650" height="525" fill="#cde4cd"/>
<polygon fill="#e5f2e5" points="912,900 960,895 990,920 1000,1000 990,1060 960,1100 930,1110 912,1110"/>
<polygon fill="#e5f2e5" points="1000,960 1040,940 1080,955 1100,1000 1090,1050 1040,1060 1010,1030"/>
<polygon fill="#e5f2e5" points="1160,1000 1200,980 1230,1010 1235,1060 1200,1080 1170,1060"/>
<polygon fill="#e5f2e5" points="1270,1010 1320,990 1360,1020 1380,1060 1350,1090 1300,1080"/>
<polygon fill="#e5f2e5" points="1400,950 1440,940 1470,980 1500,1040 1470,1100 1430,1110 1410,1060"/>
<polygon fill="#e5f2e5" points="1450,1050 1490,1040 1520,1080 1500,1110 1460,1100"/>
<polygon fill="#e5f2e5" points="912,1135 1000,1142 1100,1136 1200,1142 1300,1136 1400,1140 1562,1136 1562,1163 912,1163"/>
<polygon fill="#ffffff" points="1412,960 1430,955 1440,1000 1435,1040 1420,1040"/>
<polygon fill="#ffffff" points="1027,1110 1035,1105 1040,1135 1030,1140"/>
<polygon fill="#ffffff" points="1460,1060 1480,1055 1490,1085 1470,1095"/>
<polygon fill="#b4d8b4" points="1230,1100 1260,1080 1290,1110 1280,1163 1240,1163"/>
<polygon fill="#b4d8b4" points="970,1163 990,1110 1010,1163"/>
<polygon fill="#b4d8b4" points="1150,1163 1180,1110 1200,1163"/>
<polygon fill="#b4d8b4" points="1520,1163 1550,1100 1562,1163"/>
<polygon fill="#b4d8b4" points="912,1163 925,1120 945,1163"/>
<polygon fill="#b4d8b4" points="912,638 1562,638 1562,885 1500,880 1450,870 1400,880 1350,875 1300,880 1250,870 1200,880 1150,888 1100,878 1050,862 1000,840 960,812 912,800"/>
<polygon fill="#9dcc9c" points="912,638 1562,638 1562,870 1500,860 1450,858 1400,860 1350,852 1300,845 1237,840 1200,835 1180,805 1150,790 1100,778 1050,768 1000,758 960,765 912,770"/>
<polygon fill="#b4d8b4" points="972,735 1000,725 1072,735 1080,790 1040,800 980,790"/>
<polygon fill="#b4d8b4" points="1100,760 1180,765 1200,790 1160,800 1110,795"/>
<polygon fill="#b4d8b4" points="1283,734 1320,728 1340,750 1330,771 1290,770"/>
<polygon fill="#86bf86" points="912,638 990,638 995,660 970,672 940,668 912,660"/>
<polygon fill="#86bf86" points="912,675 940,672 990,680 1000,705 960,715 912,712"/>
<polygon fill="#86bf86" points="1155,638 1237,638 1235,660 1200,668 1160,660"/>
<polygon fill="#86bf86" points="1237,668 1300,662 1400,660 1480,665 1562,662 1562,725 1480,722 1400,718 1300,720 1237,715"/>
<polygon fill="#86bf86" points="1040,740 1075,735 1085,760 1060,770 1040,760"/>
<polygon fill="#86bf86" points="1300,800 1350,795 1380,820 1360,840 1310,835"/>
<polygon fill="#86bf86" points="1450,800 1500,815 1520,850 1480,855 1450,830"/>
<polygon fill="#86bf86" points="1262,840 1290,830 1300,860 1270,865"/>
<polygon fill="#6fb36f" points="915,684 985,688 985,704 915,708"/>
<polygon fill="#6fb36f" points="1250,677 1350,672 1450,674 1562,677 1562,712 1450,712 1350,708 1250,705"/>
<polygon fill="#b4d8b4" points="1470,638 1562,638 1562,652 1510,650"/>
<use href="#barbs" x="763"/>
<path stroke="#000" stroke-width="1.2" d="M993.25 638V1163M1074.5 638V1163M1155.75 638V1163M1237 638V1163M1318.25 638V1163M1399.5 638V1163M1480.75 638V1163"/>
</g>
<rect x="912" y="638" width="650" height="525" fill="none" stroke="#000" stroke-width="1.6"/>

<!-- ================= COLORBARS ================= -->
<g>
<rect x="66" y="111.7" width="15" height="19" fill="#77e07a"/>
<rect x="66" y="130.5" width="15" height="19" fill="#3cb040"/>
<rect x="66" y="149.3" width="15" height="19" fill="#008000"/>
<rect x="66" y="168.1" width="15" height="19" fill="#00288a"/>
<rect x="66" y="186.9" width="15" height="19" fill="#0046b4"/>
<rect x="66" y="205.7" width="15" height="19" fill="#0a6ee6"/>
<rect x="66" y="224.5" width="15" height="19" fill="#1496ff"/>
<rect x="66" y="243.3" width="15" height="19" fill="#32bcff"/>
<rect x="66" y="262.1" width="15" height="19" fill="#96d2ff"/>
<rect x="66" y="280.9" width="15" height="19" fill="#d8e0ff"/>
<rect x="66" y="299.7" width="15" height="19" fill="#ffe4e6"/>
<rect x="66" y="318.5" width="15" height="19" fill="#f5c8b4"/>
<rect x="66" y="337.3" width="15" height="19" fill="#edb096"/>
<rect x="66" y="356.1" width="15" height="19" fill="#e8917f"/>
<rect x="66" y="374.9" width="15" height="19" fill="#e47564"/>
<rect x="66" y="393.7" width="15" height="19" fill="#ff5a1c"/>
<rect x="66" y="412.5" width="15" height="19" fill="#ffa01c"/>
<rect x="66" y="431.3" width="15" height="19" fill="#ffd028"/>
<rect x="66" y="450.1" width="15" height="19" fill="#f2f064"/>
<rect x="66" y="468.9" width="15" height="19" fill="#ffff50"/>
<rect x="66" y="487.7" width="15" height="19" fill="#ffff9a"/>
<rect x="66" y="506.5" width="15" height="18.8" fill="#f4f4f4"/>
</g>
<g class="ax">
<text x="86" y="135.5">100</text><text x="86" y="154.3">95</text><text x="86" y="173.1">90</text><text x="86" y="191.9">85</text>
<text x="86" y="210.7">80</text><text x="86" y="229.5">75</text><text x="86" y="248.3">70</text><text x="86" y="267.1">65</text>
<text x="86" y="285.9">60</text><text x="86" y="304.7">55</text><text x="86" y="323.5">50</text><text x="86" y="342.3">45</text>
<text x="86" y="361.1">40</text><text x="86" y="379.9">35</text><text x="86" y="398.7">30</text><text x="86" y="417.5">25</text>
<text x="86" y="436.3">20</text><text x="86" y="455.1">15</text><text x="86" y="473.9">10</text><text x="86" y="492.7">5</text>
<text x="86" y="511.5">0</text>
</g>
<g>
<rect x="830" y="112.3" width="15" height="23.2" fill="#a31c1c"/>
<rect x="830" y="135.2" width="15" height="23.2" fill="#b82222"/>
<rect x="830" y="158.2" width="15" height="23.2" fill="#cc3d3d"/>
<rect x="830" y="181.1" width="15" height="23.2" fill="#ff9c00"/>
<rect x="830" y="204.1" width="15" height="23.2" fill="#ffba3c"/>
<rect x="830" y="227" width="15" height="23.2" fill="#ffdf80"/>
<rect x="830" y="249.9" width="15" height="23.2" fill="#fff5b4"/>
<rect x="830" y="272.9" width="15" height="23.2" fill="#78ef78"/>
<rect x="830" y="295.8" width="15" height="23.2" fill="#34cc34"/>
<rect x="830" y="318.8" width="15" height="23.2" fill="#109c10"/>
<rect x="830" y="341.7" width="15" height="23.2" fill="#1468d8"/>
<rect x="830" y="364.6" width="15" height="23.2" fill="#1c3cff"/>
<rect x="830" y="387.6" width="15" height="23.2" fill="#200098"/>
<rect x="830" y="410.5" width="15" height="23.2" fill="#2c22a0"/>
<rect x="830" y="433.5" width="15" height="23.2" fill="#4434bc"/>
<rect x="830" y="456.4" width="15" height="23.2" fill="#6656cc"/>
<rect x="830" y="479.3" width="15" height="23.2" fill="#7c70e8"/>
<rect x="830" y="502.3" width="15" height="22.9" fill="#f2f2f2"/>
</g>
<g class="ax">
<text x="850" y="140.2">100</text><text x="850" y="163.2">70</text><text x="850" y="186.1">55</text><text x="850" y="209.1">40</text>
<text x="850" y="232">30</text><text x="850" y="254.9">22</text><text x="850" y="277.9">15</text><text x="850" y="300.8">9</text>
<text x="850" y="323.8">6</text><text x="850" y="346.7">2</text><text x="850" y="369.6">0</text><text x="850" y="392.6">−2</text>
<text x="850" y="415.5">−5</text><text x="850" y="438.5">−10</text><text x="850" y="461.4">−18</text><text x="850" y="484.3">−30</text>
<text x="850" y="507.3">−45</text>
</g>
<g id="ucb">
<rect x="66" y="713.5" width="15" height="21.8" fill="#ff0000"/>
<rect x="66" y="735.1" width="15" height="21.8" fill="#ff2f2f"/>
<rect x="66" y="756.7" width="15" height="21.8" fill="#ff4848"/>
<rect x="66" y="778.3" width="15" height="21.8" fill="#ff6161"/>
<rect x="66" y="799.9" width="15" height="21.8" fill="#ff7a7a"/>
<rect x="66" y="821.5" width="15" height="21.8" fill="#ff9494"/>
<rect x="66" y="843.1" width="15" height="21.8" fill="#ffadad"/>
<rect x="66" y="864.7" width="15" height="21.8" fill="#ffc6c6"/>
<rect x="66" y="886.3" width="15" height="21.6" fill="#ffdfdf"/>
<rect x="66" y="929.5" width="15" height="21.8" fill="#e5f2e5"/>
<rect x="66" y="951.1" width="15" height="21.8" fill="#cde4cd"/>
<rect x="66" y="972.7" width="15" height="21.8" fill="#b4d8b4"/>
<rect x="66" y="994.3" width="15" height="21.8" fill="#9dcc9c"/>
<rect x="66" y="1015.9" width="15" height="21.8" fill="#86bf86"/>
<rect x="66" y="1037.5" width="15" height="21.8" fill="#6fb36f"/>
<rect x="66" y="1059.1" width="15" height="21.8" fill="#56a656"/>
<rect x="66" y="1080.7" width="15" height="21.8" fill="#3b983b"/>
<rect x="66" y="1102.3" width="15" height="21.6" fill="#1e8a1e"/>
</g>
<use href="#ucb" x="764"/>
<g class="ax">
<text x="86" y="740.1">40</text><text x="86" y="761.7">30</text><text x="86" y="783.3">22</text><text x="86" y="804.9">16</text>
<text x="86" y="826.5">12</text><text x="86" y="848.1">9</text><text x="86" y="869.7">6</text><text x="86" y="891.3">3</text>
<text x="86" y="912.9">1</text><text x="86" y="934.5">−1</text><text x="86" y="956.1">−3</text><text x="86" y="977.7">−6</text>
<text x="86" y="999.3">−9</text><text x="86" y="1020.9">−12</text><text x="86" y="1042.5">−16</text><text x="86" y="1064.1">−22</text>
<text x="86" y="1085.7">−30</text><text x="86" y="1107.3">−40</text>
<text x="850" y="740.1">40</text><text x="850" y="761.7">30</text><text x="850" y="783.3">22</text><text x="850" y="804.9">16</text>
<text x="850" y="826.5">12</text><text x="850" y="848.1">9</text><text x="850" y="869.7">6</text><text x="850" y="891.3">3</text>
<text x="850" y="912.9">1</text><text x="850" y="934.5">−1</text><text x="850" y="956.1">−3</text><text x="850" y="977.7">−6</text>
<text x="850" y="999.3">−9</text><text x="850" y="1020.9">−12</text><text x="850" y="1042.5">−16</text><text x="850" y="1064.1">−22</text>
<text x="850" y="1085.7">−30</text><text x="850" y="1107.3">−40</text>
</g>

<!-- ================= AXES LABELS ================= -->
<path stroke="#000" stroke-width="1.2" d="M140 37H149M140 95.3H149M140 153.7H149M140 212H149M140 270.3H149M140 328.7H149M140 387H149M140 445.3H149M140 503.7H149M140 562H149
M140 638H149M140 696.3H149M140 754.7H149M140 813H149M140 871.3H149M140 929.7H149M140 988H149M140 1046.3H149M140 1104.7H149M140 1163H149
M905 37H912M905 95.3H912M905 153.7H912M905 212H912M905 270.3H912M905 328.7H912M905 387H912M905 445.3H912M905 503.7H912M905 562H912
M905 638H912M905 696.3H912M905 754.7H912M905 813H912M905 871.3H912M905 929.7H912M905 988H912M905 1046.3H912M905 1104.7H912M905 1163H912"/>
<g class="ax" text-anchor="end">
<text x="138" y="42">100</text><text x="138" y="100.3">200</text><text x="138" y="158.7">300</text><text x="138" y="217">400</text>
<text x="138" y="275.3">500</text><text x="138" y="333.7">600</text><text x="138" y="392">700</text><text x="138" y="450.3">800</text>
<text x="138" y="508.7">900</text><text x="145" y="567">1000</text>
<text x="138" y="643">100</text><text x="138" y="701.3">200</text><text x="138" y="759.7">300</text><text x="138" y="818">400</text>
<text x="138" y="876.3">500</text><text x="138" y="934.7">600</text><text x="138" y="993">700</text><text x="138" y="1051.3">800</text>
<text x="138" y="1109.7">900</text><text x="145" y="1168">1000</text>
<text x="904" y="42">%</text><text x="904" y="100.3">%</text><text x="904" y="158.7">%</text><text x="904" y="217">%</text>
<text x="904" y="275.3">%</text><text x="904" y="333.7">%</text><text x="904" y="392">%</text><text x="904" y="450.3">%</text>
<text x="904" y="508.7">%</text><text x="904" y="567">%</text>
<text x="904" y="643">%</text><text x="904" y="701.3">%</text><text x="904" y="759.7">%</text><text x="904" y="818">%</text>
<text x="904" y="876.3">%</text><text x="904" y="934.7">%</text><text x="904" y="993">%</text><text x="904" y="1051.3">%</text>
<text x="904" y="1109.7">%</text><text x="904" y="1168">%</text>
</g>
<g class="ax" text-anchor="middle">
<text x="149" y="581">06Z</text><text x="230.25" y="581">12Z</text><text x="311.5" y="581">18Z</text><text x="392.75" y="581">00Z</text>
<text x="474" y="581">06Z</text><text x="555.25" y="581">12Z</text><text x="636.5" y="581">18Z</text><text x="717.75" y="581">00Z</text><text x="799" y="581">06Z</text>
<text x="149" y="596">17JAN</text><text x="392.75" y="596">18JAN</text><text x="717.75" y="596">19JAN</text><text x="149" y="611">2026</text>
<text x="912" y="581">06Z</text><text x="993.25" y="581">12Z</text><text x="1074.5" y="581">18Z</text><text x="1155.75" y="581">00Z</text>
<text x="1237" y="581">06Z</text><text x="1318.25" y="581">12Z</text><text x="1399.5" y="581">18Z</text><text x="1480.75" y="581">00Z</text><text x="1562" y="581">06Z</text>
<text x="912" y="596">17JAN</text><text x="1155.75" y="596">18JAN</text><text x="1480.75" y="596">19JAN</text><text x="912" y="611">2026</text>
<text x="149" y="1183">06Z</text><text x="230.25" y="1183">12Z</text><text x="311.5" y="1183">18Z</text><text x="392.75" y="1183">00Z</text>
<text x="474" y="1183">06Z</text><text x="555.25" y="1183">12Z</text><text x="636.5" y="1183">18Z</text><text x="717.75" y="1183">00Z</text><text x="799" y="1183">06Z</text>
<text x="149" y="1199">17JAN</text><text x="392.75" y="1199">18JAN</text><text x="717.75" y="1199">19JAN</text><text x="149" y="1214">2026</text>
<text x="912" y="1183">06Z</text><text x="993.25" y="1183">12Z</text><text x="1074.5" y="1183">18Z</text><text x="1155.75" y="1183">00Z</text>
<text x="1237" y="1183">06Z</text><text x="1318.25" y="1183">12Z</text><text x="1399.5" y="1183">18Z</text><text x="1480.75" y="1183">00Z</text><text x="1562" y="1183">06Z</text>
<text x="912" y="1199">17JAN</text><text x="1155.75" y="1199">18JAN</text><text x="1480.75" y="1199">19JAN</text><text x="912" y="1214">2026</text>
</g>
</svg>
</body></html>
